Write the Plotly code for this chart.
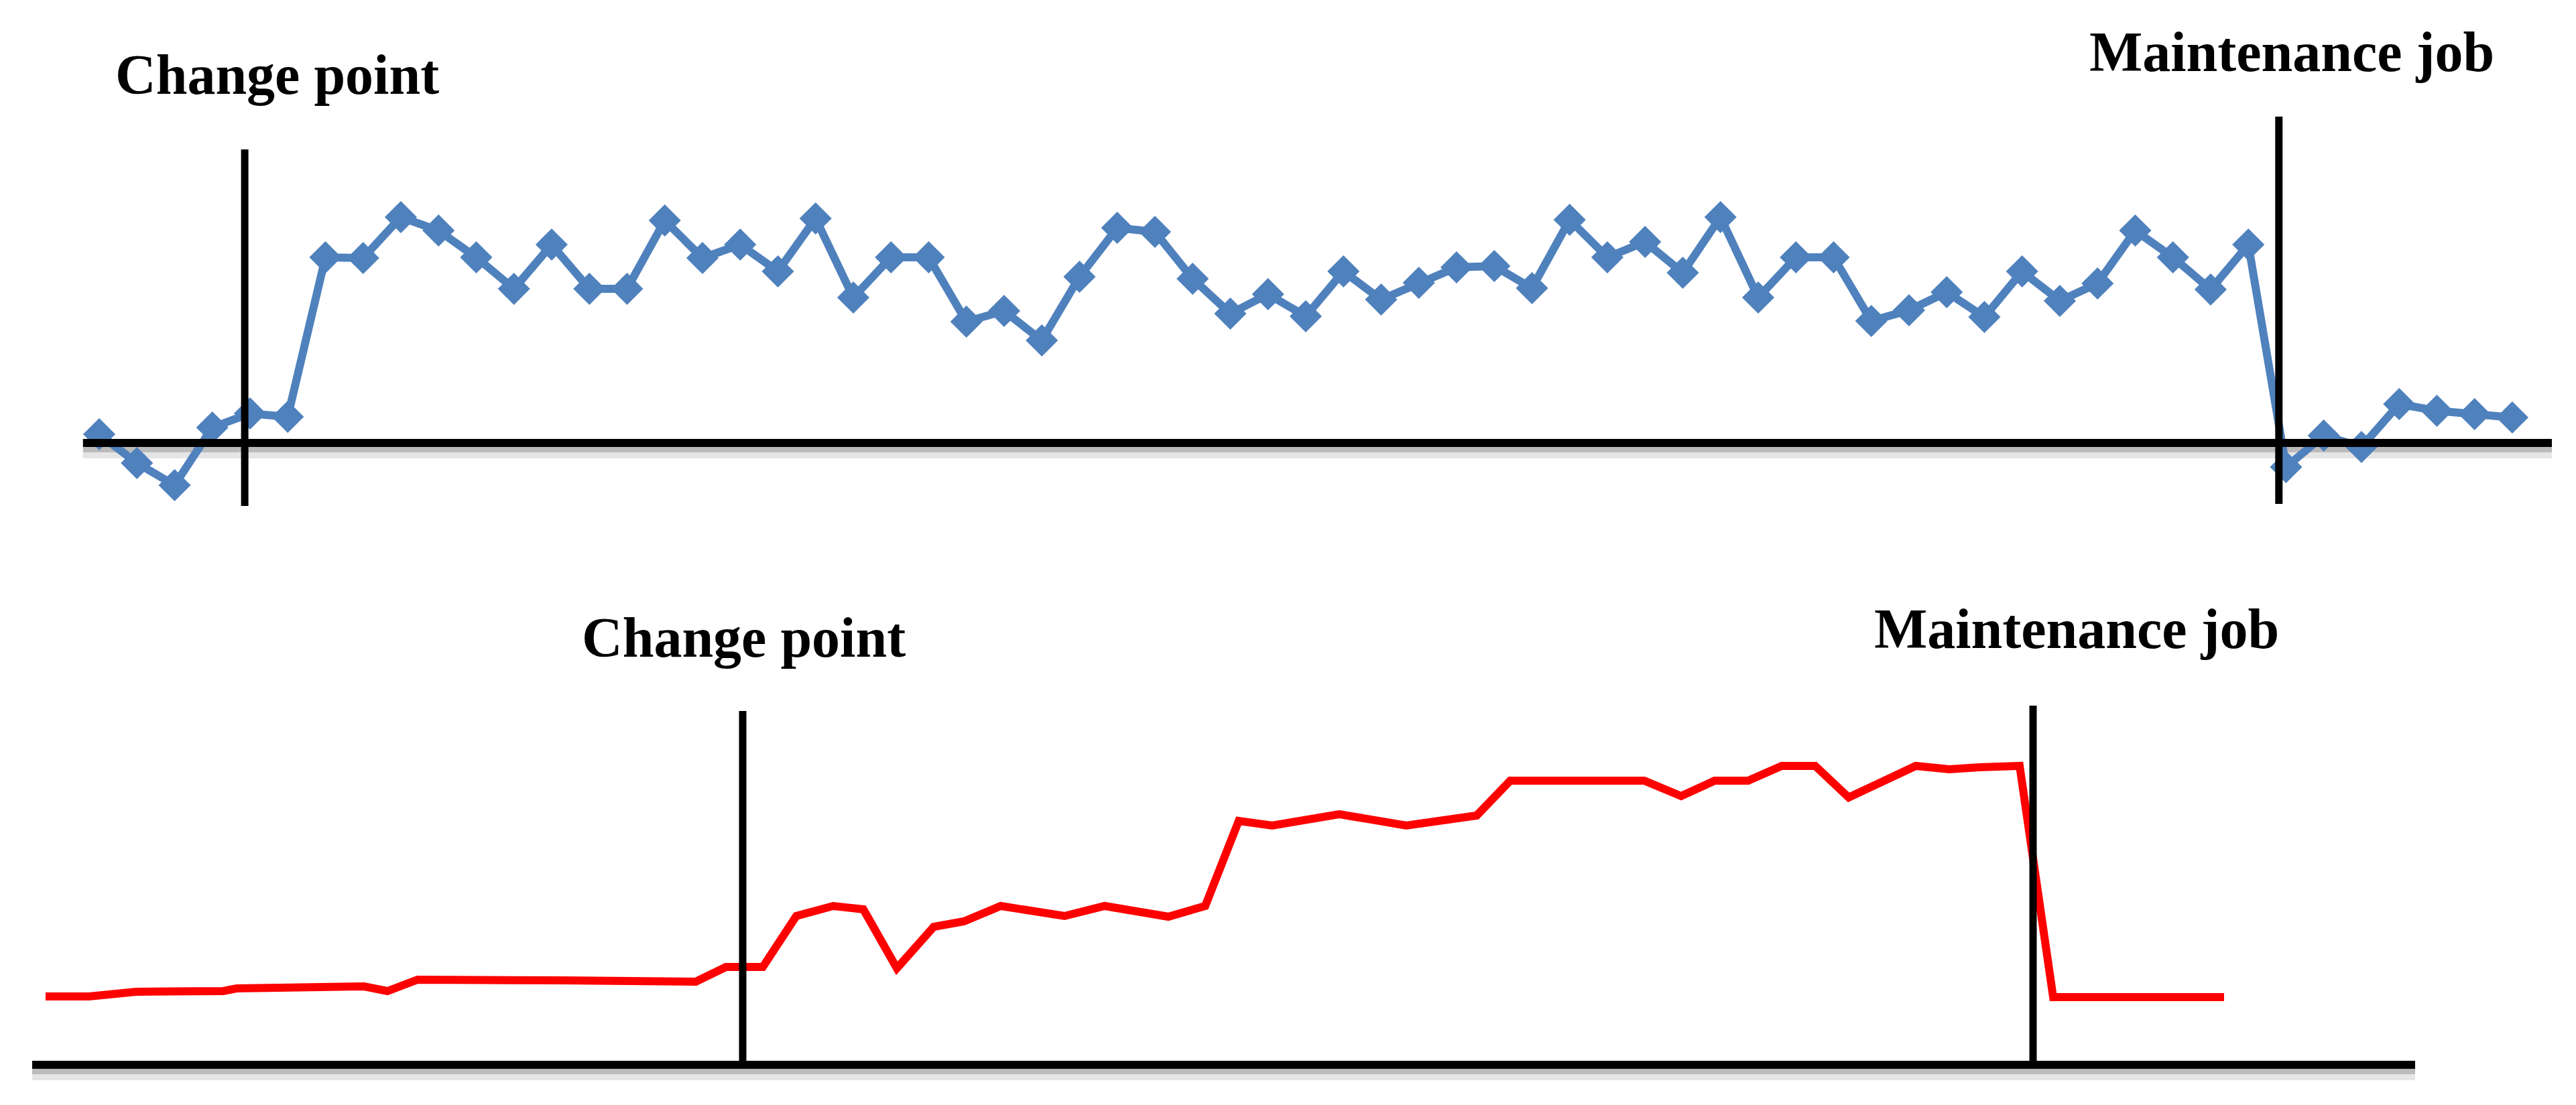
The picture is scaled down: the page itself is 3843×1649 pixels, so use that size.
import plotly.graph_objects as go

# ---------------- data ----------------
# top panel: evenly spaced samples (index 1..65)
top_t = list(range(1, 66))
top_v = [1.3, -3.0, -6.3, 2.3, 4.4, 3.9, 27.7, 27.6, 33.7, 31.7,
         27.7, 23.0, 29.6, 23.0, 23.0, 33.2, 27.6, 29.6, 25.6, 33.5,
         21.7, 27.7, 27.7, 18.1, 19.7, 15.3, 24.8, 32.1, 31.5, 24.5,
         19.3, 22.2, 18.9, 25.6, 21.4, 23.9, 26.2, 26.4, 23.1, 33.3,
         27.7, 30.0, 25.4, 33.7, 21.7, 27.7, 27.7, 18.2, 19.8, 22.5,
         18.8, 25.6, 21.2, 23.8, 31.7, 27.7, 22.9, 29.6, -3.6, 1.1,
         -0.6, 5.8, 4.8, 4.3, 3.8]

# bottom panel: irregularly spaced samples
bot_t = [0.0, 1.3, 2.7, 5.3, 5.7, 8.3, 9.5, 10.2, 11.1, 15.4,
         19.4, 20.3, 21.4, 22.4, 23.5, 24.4, 25.4, 26.5, 27.4, 28.5,
         30.4, 31.6, 33.5, 34.6, 35.6, 36.6, 38.6, 40.6, 42.7, 43.7,
         47.7, 48.8, 49.8, 50.8, 51.8, 52.8, 53.8, 55.8, 56.8, 57.7,
         58.9, 59.9, 65.0]
bot_v = [10.2, 10.2, 10.9, 11.0, 11.4, 11.5, 11.7, 11.0, 12.7, 12.6,
         12.4, 14.6, 14.6, 22.2, 23.7, 23.2, 14.4, 20.6, 21.4, 23.7,
         22.2, 23.7, 22.1, 23.7, 36.4, 35.7, 37.4, 35.7, 37.2, 42.4,
         42.4, 40.1, 42.4, 42.4, 44.6, 44.6, 39.9, 44.6, 44.1, 44.4,
         44.6, 10.1, 10.1]

# event markers: (x, y_top, y_bottom)
top_events = {"Change point": (4.86, 43.8, -9.4), "Maintenance job": (58.81, 48.7, -9.1)}
bot_events = {"Change point": (20.8, 52.8, -0.4), "Maintenance job": (59.3, 53.6, -0.2)}
top_axis_span = (0.57, 66.05)
bot_axis_span = (-0.4, 70.7)

# label positions (paper coords): left edge, bottom
labels = [
    ("Change point", 0.0442, 0.903),
    ("Maintenance job", 0.8105, 0.9235),
    ("Change point", 0.2253, 0.3935),
    ("Maintenance job", 0.7270, 0.4015),
]

BLUE = "#4F81BD"
RED = "#FF0000"

fig = go.Figure()
fig.add_trace(go.Scatter(
    x=top_t, y=top_v, mode="lines+markers", xaxis="x", yaxis="y",
    line=dict(color=BLUE, width=12),
    marker=dict(symbol="diamond", size=37, color=BLUE, line=dict(width=0)),
    showlegend=False, hoverinfo="skip"))
fig.add_trace(go.Scatter(
    x=bot_t, y=bot_v, mode="lines", xaxis="x2", yaxis="y2",
    line=dict(color=RED, width=12),
    showlegend=False, hoverinfo="skip"))

shapes = []
# axis baselines with soft shadow
for (x0, x1), xr, yr in [(top_axis_span, "x", "y"), (bot_axis_span, "x2", "y2")]:
    shapes.append(dict(type="line", xref=xr, yref=yr, x0=x0, x1=x1, y0=-1.4, y1=-1.4,
                       line=dict(color="rgba(0,0,0,0.10)", width=18), layer="below"))
    shapes.append(dict(type="line", xref=xr, yref=yr, x0=x0, x1=x1, y0=-1.0, y1=-1.0,
                       line=dict(color="rgba(0,0,0,0.18)", width=8), layer="below"))
    shapes.append(dict(type="line", xref=xr, yref=yr, x0=x0, x1=x1, y0=0, y1=0,
                       line=dict(color="black", width=12)))
for ev, xr, yr in [(top_events, "x", "y"), (bot_events, "x2", "y2")]:
    for name, (xv, yt, yb) in ev.items():
        shapes.append(dict(type="line", xref=xr, yref=yr, x0=xv, x1=xv, y0=yb, y1=yt,
                           line=dict(color="black", width=11)))

annotations = []
for text, xp, yp in labels:
    annotations.append(dict(text="<b>" + text + "</b>", xref="paper", yref="paper",
                            x=xp, y=yp, xanchor="left", yanchor="bottom", showarrow=False,
                            font=dict(family="Liberation Serif", size=84, color="black")))

hidden = dict(visible=False, showgrid=False, zeroline=False, fixedrange=True)
fig.update_layout(
    width=3843, height=1649,
    margin=dict(l=0, r=0, t=0, b=0),
    paper_bgcolor="white", plot_bgcolor="white",
    xaxis=dict(domain=[0, 1], range=[-1.631, 66.69], anchor="y", **hidden),
    yaxis=dict(domain=[0.50273, 1], range=[-15.9, 66.1], anchor="x", **hidden),
    xaxis2=dict(domain=[0, 1], range=[-1.36, 75.5], anchor="y2", **hidden),
    yaxis2=dict(domain=[0, 0.50273], range=[-6.0, 76.9], anchor="x2", **hidden),
    shapes=shapes, annotations=annotations,
)

fig.write_html("out.html", config={"displayModeBar": False},
               post_script="document.body.style.margin='0';document.body.style.overflow='hidden';")
